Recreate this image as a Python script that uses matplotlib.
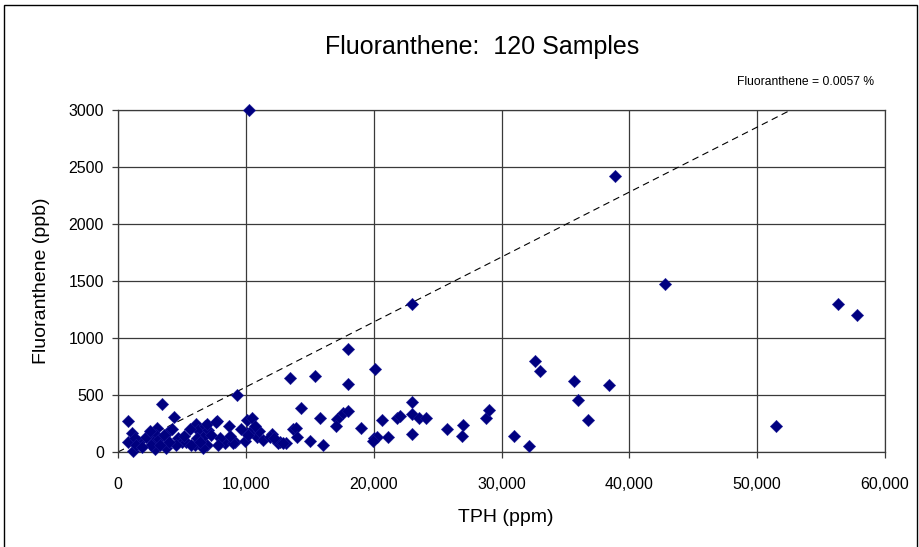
import matplotlib
matplotlib.use("Agg")
import matplotlib.pyplot as plt
from matplotlib.patches import Rectangle
from matplotlib.ticker import FuncFormatter, MultipleLocator

plt.rcParams['font.family'] = ['Liberation Sans', 'DejaVu Sans']

title = "Fluoranthene:  120 Samples"
x_label = "TPH (ppm)"
y_label = "Fluoranthene (ppb)"
fit_label = "Fluoranthene = 0.0057 %"
fit_pct = 0.0057  # percent of TPH

# TPH (ppm)
tph = [
    780, 1100, 800, 1640, 1170, 1300, 3440, 4380, 3050, 2970,
    3910, 2740, 2900, 3760, 4700, 5000, 5320, 6100, 6260, 6810,
    7040, 7750, 6650, 6030, 6960, 6180, 8690, 8370, 9160, 10090,
    10490, 10090, 10560, 10880, 9940, 11350, 9310, 10250, 3200, 2600,
    4500, 6650, 9000, 10170, 6960, 7670, 12050, 12520, 13150, 13690,
    12680, 5700, 3600, 1400, 13460, 15410, 18000, 18000, 20110, 23000,
    23000, 14320, 15800, 17140, 17060, 17600, 18000, 19010, 20660, 21830,
    22070, 23000, 23550, 24100, 23000, 25740, 27000, 26920, 28800, 29030,
    20030, 20270, 21130, 19950, 15020, 16040, 13930, 14000, 12910, 11900,
    30990, 32160, 32630, 33020, 35680, 38420, 35990, 36780, 38890, 42800,
    51490, 56340, 57820, 2200, 4000, 5200, 8000, 9600, 11000, 1900,
    3300, 5600, 7300, 8800, 10700, 12200, 4200, 6400, 2500, 7800,
]
# Fluoranthene (ppb)
fluor = [
    270, 170, 90, 90, 10, 120, 420, 310, 210, 150,
    175, 90, 30, 35, 120, 90, 90, 250, 190, 230,
    190, 270, 130, 60, 60, 120, 230, 80, 90, 280,
    300, 170, 200, 130, 100, 105, 500, 3000, 110, 60,
    60, 35, 80, 150, 250, 260, 160, 80, 80, 200,
    90, 60, 150, 60, 650, 670, 900, 600, 730, 1300,
    440, 390, 300, 290, 230, 340, 360, 210, 280, 300,
    320, 330, 300, 300, 160, 200, 240, 140, 300, 370,
    120, 130, 130, 100, 100, 60, 210, 130, 80, 130,
    140, 50, 800, 710, 620, 590, 460, 280, 2420, 1470,
    230, 1300, 1200, 130, 90, 140, 120, 200, 180, 40,
    60, 200, 150, 140, 230, 120, 200, 90, 180, 60,
]

x_ticks = [0, 10000, 20000, 30000, 40000, 50000, 60000]
y_ticks = [0, 500, 1000, 1500, 2000, 2500, 3000]

W, H = 919, 547
fig = plt.figure(figsize=(W / 100, H / 100), dpi=100)
ax = fig.add_axes([118 / W, 1 - 452 / H, (885 - 118) / W, (452 - 110) / H])

# outer chart frame (bottom is cut off in the reference)
fig.patches.append(Rectangle((4 / W, -0.05), (917 - 4) / W, 1 - 5 / H + 0.05,
                             transform=fig.transFigure, fill=False,
                             edgecolor='black', linewidth=1.0, zorder=0))

ax.set_xlim(x_ticks[0], x_ticks[-1])
ax.set_ylim(y_ticks[0], y_ticks[-1])
ax.set_xticks(x_ticks)
ax.set_yticks(y_ticks)
ax.xaxis.set_major_formatter(FuncFormatter(lambda v, p: f"{int(v):,}"))
ax.grid(True, color='#3a3a3a', linewidth=0.9)
ax.set_axisbelow(True)
for s in ax.spines.values():
    s.set_color('#3a3a3a')
    s.set_linewidth(0.9)
ax.tick_params(axis='both', direction='out', length=4, width=0.9,
               color='#3a3a3a', labelsize=11.5, pad=6)
ax.tick_params(axis='x', pad=14)

# trend line through origin
slope = fit_pct / 100 * 1000  # ppb per ppm
x_end = y_ticks[-1] / slope
ax.plot([0, x_end], [0, slope * x_end], color='black', linestyle=(0, (6, 4)),
        linewidth=0.8, zorder=2)

ax.scatter(tph, fluor, marker='D', s=40, color='#000080', edgecolors='#1a1a9a',
           linewidths=0.3, zorder=3, clip_on=False)

fig.text(482 / W, 1 - 47 / H, title, ha='center', va='center', fontsize=18)
fig.text(874 / W, 1 - 82 / H, fit_label, ha='right', va='center', fontsize=8.7)
fig.text(506 / W, 1 - 518 / H, x_label, ha='center', va='center', fontsize=14)
fig.text(42 / W, 1 - 281 / H, y_label, ha='center', va='center', fontsize=14,
         rotation=90)

fig.savefig('out.png', dpi=100)
